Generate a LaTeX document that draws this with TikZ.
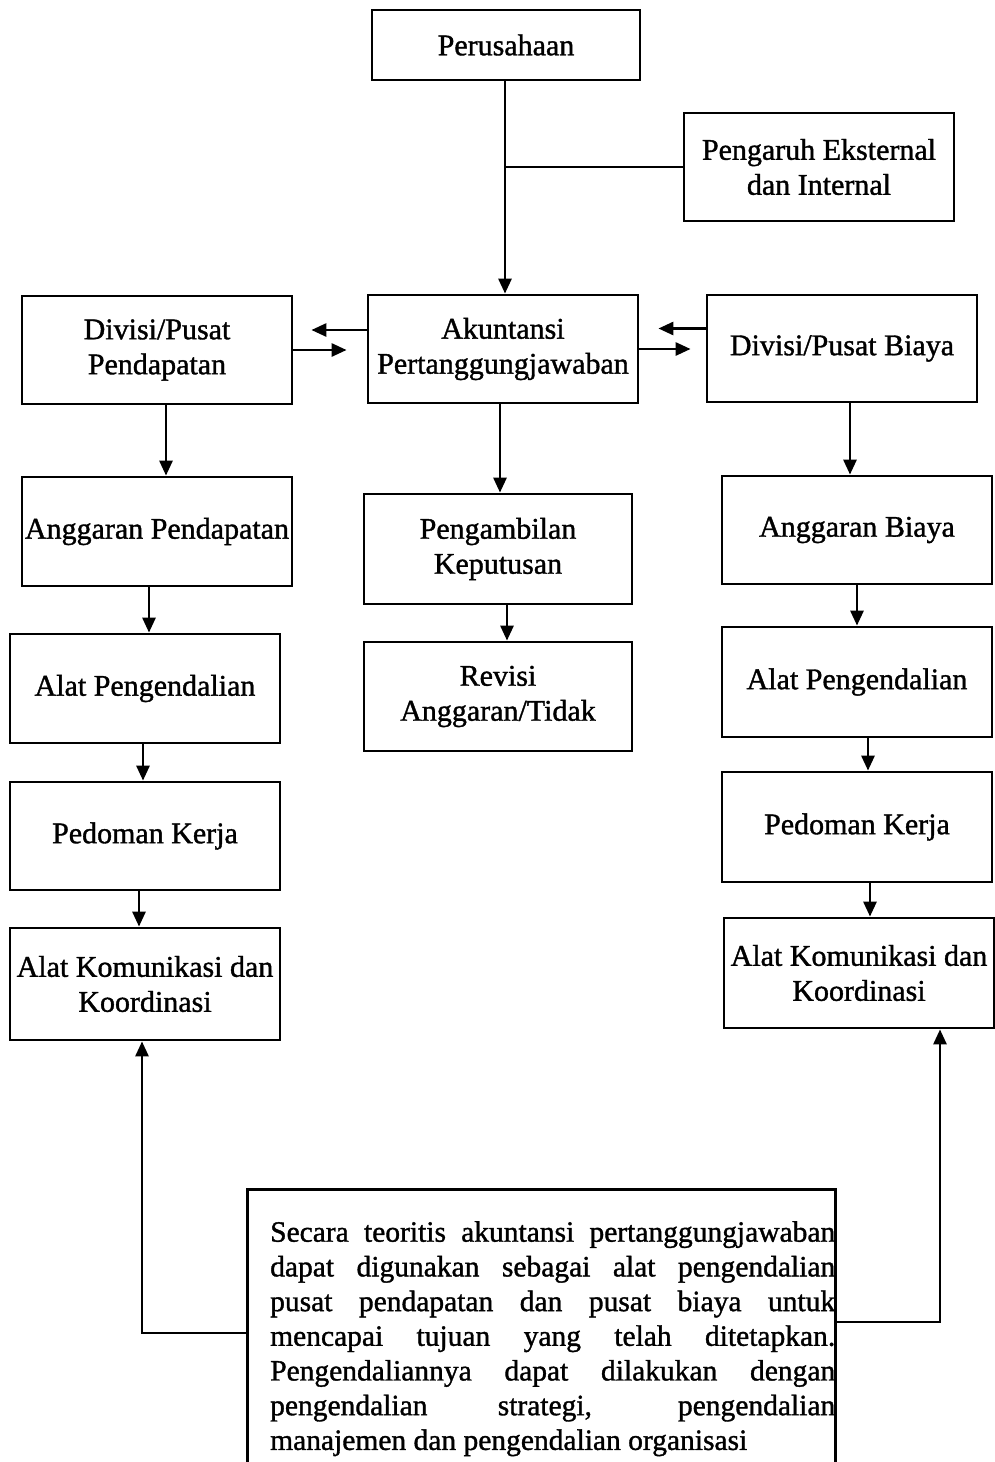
\documentclass[tikz,border=0pt]{standalone}
\usepackage{fontspec}
\setmainfont{Liberation Serif}
\newfontfamily\dfont{Liberation Serif}[FakeBold=1.2]
\usetikzlibrary{arrows.meta}
\begin{document}
\begin{tikzpicture}[x=1pt,y=-1pt,
  box/.style={draw, line width=2.8pt, inner sep=0pt, align=center,
    font=\dfont\fontsize{30}{35}\selectfont, minimum width=270pt, minimum height=108pt},
  arr/.style={line width=2.8pt, -{Triangle[length=15pt,width=13pt]}},
  ln/.style={line width=2.8pt}]
\useasboundingbox (0,0) rectangle (995,1462);
\fill[white] (0,0) rectangle (995,1462);
% nodes
\node[box, minimum width=268pt, minimum height=70pt] (per) at (506,45) {Perusahaan};
\node[box] (peng) at (819,167) {Pengaruh Eksternal\\dan Internal};
\node[box] (ak) at (503,349) {Akuntansi\\Pertanggungjawaban};
\node[box] (divp) at (157,350) {Divisi/Pusat\\Pendapatan};
\node[box, minimum height=107pt] (divb) at (842,348.5) {Divisi/Pusat Biaya};
\node[box, minimum height=109pt] (angp) at (157,531.5) {Anggaran Pendapatan};
\node[box, minimum width=268pt, minimum height=110pt] (keput) at (498,549) {Pengambilan\\Keputusan};
\node[box, minimum width=268pt, minimum height=109pt] (rev) at (498,696.5) {Revisi\\Anggaran/Tidak};
\node[box, minimum height=109pt] (alpL) at (145,688.5) {Alat Pengendalian};
\node[box] (pedL) at (145,836) {Pedoman Kerja};
\node[box, minimum height=112pt] (komL) at (145,984) {Alat Komunikasi dan\\Koordinasi};
\node[box] (angb) at (857,530) {Anggaran Biaya};
\node[box, minimum height=110pt] (alpR) at (857,682) {Alat Pengendalian};
\node[box, minimum height=110pt] (pedR) at (857,827) {Pedoman Kerja};
\node[box, minimum height=110pt] (komR) at (859,973) {Alat Komunikasi dan\\Koordinasi};
% note box (bottom cut off)
\node[minimum width=587pt, minimum height=272pt, inner sep=0pt] (note) at (541.5,1326) {};
\draw[line width=2.8pt] (note.south west) -- (note.north west) -- (note.north east) -- (note.south east);
\node[anchor=north west, inner sep=0pt, align=left, font=\dfont\fontsize{29.5}{34.7}\selectfont] (notetext) at (270,1221) {%
\makebox[565pt][s]{Secara teoritis akuntansi pertanggungjawaban}\\
\makebox[565pt][s]{dapat digunakan sebagai alat pengendalian}\\
\makebox[565pt][s]{pusat pendapatan dan pusat biaya untuk}\\
\makebox[565pt][s]{mencapai tujuan yang telah ditetapkan.}\\
\makebox[565pt][s]{Pengendaliannya dapat dilakukan dengan}\\
\makebox[565pt][s]{pengendalian strategi, pengendalian}\\
\makebox[565pt][l]{manajemen dan pengendalian organisasi}};
% connectors
\coordinate (jn) at ([xshift=-1pt]per.south |- peng.west);
\draw[arr] ([xshift=-1pt]per.south) -- ([xshift=-1pt]per.south |- ak.north);
\draw[ln] (peng.west) -- (jn);
\draw[arr, shorten >=18pt] ([yshift=19pt]ak.west) -- ([yshift=19pt]ak.west -| divp.east);
\draw[arr, shorten >=20pt] (divp.east) -- (divp.east -| ak.west);
\draw[arr, shorten >=19pt] ([yshift=20pt]divb.west) -- ([yshift=20pt]divb.west -| ak.east);
\draw[arr, shorten >=15pt] (ak.east) -- (ak.east -| divb.west);
\draw[arr] ([xshift=9pt]divp.south) -- ([xshift=9pt]divp.south |- angp.north);
\draw[arr] ([xshift=-3pt]ak.south) -- ([xshift=-3pt]ak.south |- keput.north);
\draw[arr] ([xshift=9pt]keput.south) -- ([xshift=9pt]keput.south |- rev.north);
\draw[arr] ([xshift=-8pt]angp.south) -- ([xshift=-8pt]angp.south |- alpL.north);
\draw[arr] ([xshift=-2pt]alpL.south) -- ([xshift=-2pt]alpL.south |- pedL.north);
\draw[arr] ([xshift=-6pt]pedL.south) -- ([xshift=-6pt]pedL.south |- komL.north);
\draw[arr] ([xshift=8pt]divb.south) -- ([xshift=8pt]divb.south |- angb.north);
\draw[arr] (angb.south) -- (angb.south |- alpR.north);
\draw[arr] ([xshift=11pt]alpR.south) -- ([xshift=11pt]alpR.south |- pedR.north);
\draw[arr] ([xshift=13pt]pedR.south) -- ([xshift=13pt]pedR.south |- komR.north);
\draw[arr] ([yshift=-7pt]note.west) -| ([xshift=-3pt]komL.south);
\draw[arr] ([yshift=4pt]note.east) -| ([xshift=81pt]komR.south);
\end{tikzpicture}
\end{document}
